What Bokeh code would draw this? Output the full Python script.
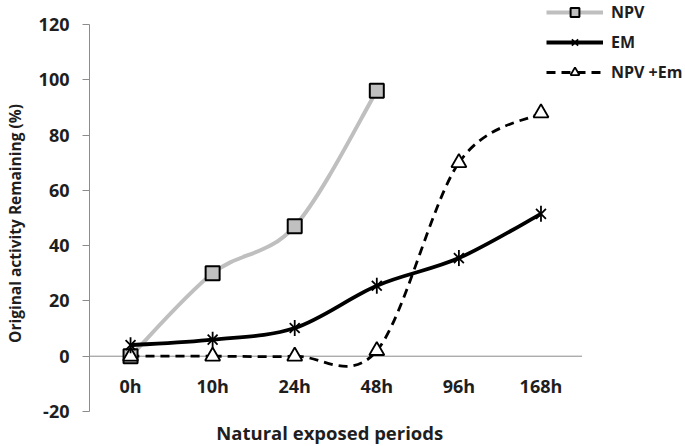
import numpy as np
from bokeh.plotting import figure
from bokeh.models import Legend, LegendItem, FixedTicker, Range1d, Label
from bokeh.embed import file_html
from bokeh.resources import INLINE

# ---- data ----
periods = ["0h", "10h", "24h", "48h", "96h", "168h"]
npv = [0, 30, 47, 96]                      # NPV (0h..48h)
em = [4, 6, 10.2, 25.5, 35.5, 51.5]        # EM
npv_em = [0, 0, 0, 2, 70, 88]              # NPV +Em
y_ticks = [-20, 0, 20, 40, 60, 80, 100, 120]
y_tick_labels = ["-20", "0", "20", "40", "60", "80", "100", "120"]
y_lo, y_hi = -20, 120

FONT = "Open Sans"
TXT = "#1e1e1e"
AX = "#8c8c8c"

# ---- layout (canvas pixels) ----
W, H = 685, 446
FL = 86                 # frame left (y axis line)
CAT_PX = 82.5           # pixels per category
TOP_PX, BOT_PX = 24, 411  # where y_hi and y_lo sit
k = (BOT_PX - TOP_PX) / (y_hi - y_lo)
x_start = -0.5
x_end = x_start + (W - FL) / CAT_PX
y_start = y_lo - (H - BOT_PX) / k
y_end = y_hi + TOP_PX / k


def smooth_controls(ys):
    """Catmull-Rom style control points (Excel 'smoothed line')."""
    xs = list(range(len(ys)))
    n = len(ys)
    out = {kk: [] for kk in ("x0", "y0", "x1", "y1", "cx0", "cy0", "cx1", "cy1")}
    for i in range(n - 1):
        a = i - 1 if i > 0 else i
        d = i + 2 if i + 2 < n else i + 1
        out["x0"].append(xs[i]); out["y0"].append(ys[i])
        out["x1"].append(xs[i + 1]); out["y1"].append(ys[i + 1])
        out["cx0"].append(xs[i] + (xs[i + 1] - xs[a]) / 6)
        out["cy0"].append(ys[i] + (ys[i + 1] - ys[a]) / 6)
        out["cx1"].append(xs[i + 1] - (xs[d] - xs[i]) / 6)
        out["cy1"].append(ys[i + 1] - (ys[d] - ys[i]) / 6)
    return out


p = figure(width=W, height=H, x_range=Range1d(x_start, x_end), y_range=Range1d(y_start, y_end),
           output_backend="svg", toolbar_location=None,
           min_border_left=FL, min_border_right=0, min_border_top=0, min_border_bottom=0)
p.outline_line_color = None
p.xgrid.visible = False
p.ygrid.visible = False

# y axis
ya = p.yaxis[0]
ya.ticker = FixedTicker(ticks=y_ticks)
ya.major_label_overrides = dict(zip(y_ticks, y_tick_labels))
ya.bounds = (y_lo, y_hi)
ya.axis_line_color = AX
ya.major_tick_line_color = AX
ya.major_tick_out = 7
ya.major_tick_in = 0
ya.minor_tick_line_color = None
ya.major_label_standoff = 13
ya.major_label_text_font = FONT
ya.major_label_text_font_style = "bold"
ya.major_label_text_font_size = "18px"
ya.major_label_text_color = TXT
ya.axis_label = "Original activity Remaining (%)"
ya.axis_label_text_font = FONT
ya.axis_label_text_font_style = "bold"
ya.axis_label_text_font_size = "15.5px"
ya.axis_label_text_color = TXT
ya.axis_label_standoff = 10

# x axis: labels drawn just under the zero line
xa = p.xaxis[0]
xa.ticker = FixedTicker(ticks=list(range(len(periods))))
xa.major_label_overrides = {i: s for i, s in enumerate(periods)}
xa.axis_line_color = None
xa.major_tick_line_color = None
xa.minor_tick_line_color = None
xa.major_tick_out = 0
xa.major_tick_in = 0
xa.major_label_standoff = -73
xa.major_label_text_font = FONT
xa.major_label_text_font_style = "bold"
xa.major_label_text_font_size = "18px"
xa.major_label_text_color = TXT

# horizontal category axis line at y = 0
p.segment(x0=[-0.5], x1=[len(periods) - 0.5], y0=[0], y1=[0], line_color=AX, line_width=1)

p.add_layout(Label(x=(len(periods) - 1) / 2, y=y_lo, x_offset=-6, y_offset=-21,
                   text="Natural exposed periods", text_align="center", text_baseline="middle",
                   text_font=FONT, text_font_style="bold", text_font_size="18.5px",
                   text_color=TXT))

# NPV
c = smooth_controls(npv)
r_npv_l = p.bezier(source=c, x0="x0", y0="y0", x1="x1", y1="y1", cx0="cx0", cy0="cy0",
                   cx1="cx1", cy1="cy1", line_color="#bfbfbf", line_width=4)
# NPV + Em
c = smooth_controls(npv_em)
r_ne_l = p.bezier(source=c, x0="x0", y0="y0", x1="x1", y1="y1", cx0="cx0", cy0="cy0",
                  cx1="cx1", cy1="cy1", line_color="black", line_width=2.8, line_dash="9 6")
# EM
c = smooth_controls(em)
r_em_l = p.bezier(source=c, x0="x0", y0="y0", x1="x1", y1="y1", cx0="cx0", cy0="cy0",
                  cx1="cx1", cy1="cy1", line_color="black", line_width=3.8)

xi = list(range(len(periods)))
r_npv_m = p.scatter(xi[:len(npv)], npv, marker="square", size=14, fill_color="#c0c0c0",
                    line_color="black", line_width=2)
r_ne_m = p.scatter(xi, npv_em, marker="triangle", size=15, fill_color="white",
                   line_color="black", line_width=1.8)
r_em_x = p.scatter(xi, em, marker="x", size=14, line_color="black", line_width=1.8)
r_em_d = p.scatter(xi, em, marker="dash", size=16, angle=np.pi / 2, line_color="black",
                   line_width=1.8)

LEG_ITEM_H, LEG_GAP = 22, 8
legend = Legend(items=[
    LegendItem(label="NPV", renderers=[r_npv_l, r_npv_m]),
    LegendItem(label="EM", renderers=[r_em_l, r_em_x, r_em_d]),
    LegendItem(label="NPV +Em", renderers=[r_ne_l, r_ne_m]),
], location=(543 - FL, H - 1 - (3 * LEG_ITEM_H + 2 * LEG_GAP)))
legend.border_line_color = None
legend.background_fill_alpha = 0
legend.padding = 0
legend.margin = 0
legend.spacing = LEG_GAP
legend.glyph_width = 57
legend.glyph_height = LEG_ITEM_H
legend.label_height = LEG_ITEM_H
legend.label_standoff = 8
legend.label_text_font = FONT
legend.label_text_font_style = "bold"
legend.label_text_font_size = "16px"
legend.label_text_color = TXT
p.add_layout(legend)

open("out.html", "w").write(file_html(p, INLINE))
